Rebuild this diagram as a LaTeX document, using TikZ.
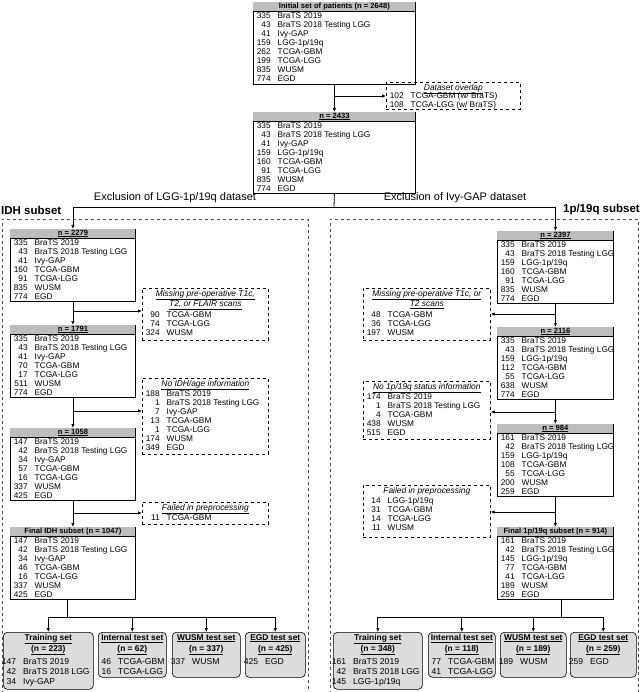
\documentclass[tikz,border=0pt]{standalone}
\usepackage{fontspec}
\setmainfont{Liberation Sans}
\usepackage{array}
\usetikzlibrary{arrows.meta}
\definecolor{hdrgray}{HTML}{BDBDBD}
\definecolor{tgray}{HTML}{DCDCDC}
\tikzset{
  dbx/.style={draw, line width=0.8pt, fill=white, inner sep=0pt},
  ebx/.style={draw, dashed, line width=0.7pt, inner sep=0pt},
  tbx/.style={draw, line width=0.6pt, fill=tgray, rounded corners=4pt, inner sep=0pt},
  txt/.style={font=\fontsize{8.3}{9.1}\selectfont, inner sep=1pt},
  ttxt/.style={font=\fontsize{8.6}{10.2}\selectfont, inner sep=1pt},
  arr/.style={line width=0.8pt, -{Latex[length=4pt,width=3.5pt]}},
  ln/.style={line width=0.8pt},
  region/.style={dashed, line width=0.6pt, gray!60!black},
}
\newcommand\rws[1]{\begin{tabular}{@{\hspace{2pt}}>{\raggedleft\arraybackslash}p{15pt}@{\hspace{7pt}}l@{}}#1\end{tabular}}
\newcommand\trws[1]{\begin{tabular}{@{}>{\raggedleft\arraybackslash}p{15pt}@{\hspace{7pt}}l@{}}#1\end{tabular}}
% name, x, y, w, h, header, rows
\newcommand\dbox[7]{%
  \node[dbx, minimum width=#4pt, minimum height=#5pt, anchor=north west] (#1) at (#2,#3) {};
  \fill[hdrgray] ([xshift=0.4pt,yshift=-0.4pt]#1.north west) rectangle ([xshift=-0.4pt,yshift=-9pt]#1.north east);
  \draw[line width=0.5pt] ([yshift=-9pt]#1.north west) -- ([yshift=-9pt]#1.north east);
  \node[anchor=north, inner sep=0.6pt, font=\fontsize{7.6}{9}\selectfont\bfseries] at (#1.north) {\underline{#6}};
  \node[txt, anchor=north west, inner sep=0.5pt] at ([yshift=-9pt]#1.north west) {\rws{#7}};}
% name, x, y, w, h, header, header height, rows
\newcommand\ebox[8]{%
  \node[ebx, minimum width=#4pt, minimum height=#5pt, anchor=north west] (#1) at (#2,#3) {};
  \node[anchor=north, align=center, inner sep=1pt, font=\fontsize{8.4}{10}\selectfont\itshape] at ([yshift=-1pt]#1.north) {#6};
  \node[txt, anchor=north west, inner sep=0.5pt] at ([yshift=-#7pt]#1.north west) {\rws{#8}};}
% name, x, y, w, h, header, rows
\newcommand\tbox[7]{%
  \node[tbx, minimum width=#4pt, minimum height=#5pt, anchor=north west] (#1) at (#2,#3) {};
  \node[ttxt, anchor=north, align=center, font=\fontsize{8.4}{11}\selectfont\bfseries] at ([yshift=-1pt]#1.north) {#6};
  \node[ttxt, anchor=north west, inner sep=0pt] at ([yshift=-25pt,xshift=-2pt]#1.north west) {\trws{#7}};}
\begin{document}
\begin{tikzpicture}[x=1pt,y=-1pt]
\useasboundingbox (0,0) rectangle (640,692);
% regions
\draw[region] (2,700) -- (2,219) -- (308,219) -- (308,700);
\draw[region] (330,700) -- (330,219) -- (638,219) -- (638,700);
% top
\dbox{top}{253}{2}{162}{82}{Initial set of patients (n = 2648)}{335 & BraTS 2019\\ 43 & BraTS 2018 Testing LGG\\ 41 & Ivy-GAP\\ 159 & LGG-1p/19q\\ 262 & TCGA-GBM\\ 199 & TCGA-LGG\\ 835 & WUSM\\ 774 & EGD}
\ebox{ov}{386}{82}{134}{27}{\underline{Dataset overlap}}{9}{102 & TCGA-GBM (w/ BraTS)\\ 108 & TCGA-LGG (w/ BraTS)}
\dbox{sec}{253}{112}{162}{81}{n = 2433}{335 & BraTS 2019\\ 43 & BraTS 2018 Testing LGG\\ 41 & Ivy-GAP\\ 159 & LGG-1p/19q\\ 160 & TCGA-GBM\\ 91 & TCGA-LGG\\ 835 & WUSM\\ 774 & EGD}
\coordinate (j0) at (334,96);
\draw[arr] (top.south) -- (sec.north);
\draw[arr] (j0) -- (ov.west |- j0);
% left column
\dbox{L1}{10}{229}{125}{72}{n = 2279}{335 & BraTS 2019\\ 43 & BraTS 2018 Testing LGG\\ 41 & Ivy-GAP\\ 160 & TCGA-GBM\\ 91 & TCGA-LGG\\ 835 & WUSM\\ 774 & EGD}
\dbox{L2}{10}{325}{125}{72}{n = 1791}{335 & BraTS 2019\\ 43 & BraTS 2018 Testing LGG\\ 41 & Ivy-GAP\\ 70 & TCGA-GBM\\ 17 & TCGA-LGG\\ 511 & WUSM\\ 774 & EGD}
\dbox{L3}{10}{428}{125}{72}{n = 1058}{147 & BraTS 2019\\ 42 & BraTS 2018 Testing LGG\\ 34 & Ivy-GAP\\ 57 & TCGA-GBM\\ 16 & TCGA-LGG\\ 337 & WUSM\\ 425 & EGD}
\dbox{L4}{10}{527}{125}{72}{Final IDH subset (n = 1047)}{147 & BraTS 2019\\ 42 & BraTS 2018 Testing LGG\\ 34 & Ivy-GAP\\ 46 & TCGA-GBM\\ 16 & TCGA-LGG\\ 337 & WUSM\\ 425 & EGD}
\ebox{LM}{142}{288}{126}{52}{\underline{Missing pre-operative T1c,}\\\underline{T2, or FLAIR scans}}{22}{90 & TCGA-GBM\\ 74 & TCGA-LGG\\ 324 & WUSM}
\ebox{LN}{142}{378}{126}{76}{\underline{No IDH/age information}}{11}{188 & BraTS 2019\\ 1 & BraTS 2018 Testing LGG\\ 7 & Ivy-GAP\\ 13 & TCGA-GBM\\ 1 & TCGA-LGG\\ 174 & WUSM\\ 349 & EGD}
\ebox{LF}{142}{502}{126}{22}{\underline{Failed in preprocessing}}{11}{11 & TCGA-GBM}
\draw[arr] (L1.south) -- (L2.north);
\draw[arr] (L2.south) -- (L3.north);
\draw[arr] (L3.south) -- (L4.north);
\coordinate (la) at (73,311);
\coordinate (lb) at (73,411);
\coordinate (lc) at (73,513);
\draw[arr] (la) -- (LM.west |- la);
\draw[arr] (lb) -- (LN.west |- lb);
\draw[arr] (lc) -- (LF.west |- lc);
% right column
\dbox{R1}{497}{231}{116}{72}{n = 2397}{335 & BraTS 2019\\ 43 & BraTS 2018 Testing LGG\\ 159 & LGG-1p/19q\\ 160 & TCGA-GBM\\ 91 & TCGA-LGG\\ 835 & WUSM\\ 774 & EGD}
\dbox{R2}{497}{327}{116}{72}{n = 2116}{335 & BraTS 2019\\ 43 & BraTS 2018 Testing LGG\\ 159 & LGG-1p/19q\\ 112 & TCGA-GBM\\ 55 & TCGA-LGG\\ 638 & WUSM\\ 774 & EGD}
\dbox{R3}{497}{424}{116}{72}{n = 984}{161 & BraTS 2019\\ 42 & BraTS 2018 Testing LGG\\ 159 & LGG-1p/19q\\ 108 & TCGA-GBM\\ 55 & TCGA-LGG\\ 200 & WUSM\\ 259 & EGD}
\dbox{R4}{497}{527}{116}{72}{Final 1p/19q subset (n = 914)}{161 & BraTS 2019\\ 42 & BraTS 2018 Testing LGG\\ 145 & LGG-1p/19q\\ 77 & TCGA-GBM\\ 41 & TCGA-LGG\\ 189 & WUSM\\ 259 & EGD}
\ebox{RM}{363}{288}{127}{52}{\underline{Missing pre-operative T1c, or}\\\underline{T2 scans}}{22}{48 & TCGA-GBM\\ 36 & TCGA-LGG\\ 197 & WUSM}
\ebox{RN}{363}{381}{127}{58}{\underline{No 1p/19q status information}}{11}{174 & BraTS 2019\\ 1 & BraTS 2018 Testing LGG\\ 4 & TCGA-GBM\\ 438 & WUSM\\ 515 & EGD}
\ebox{RF}{363}{485}{127}{52}{Failed in preprocessing}{11}{14 & LGG-1p/19q\\ 31 & TCGA-GBM\\ 14 & TCGA-LGG\\ 11 & WUSM}
\draw[arr] (R1.south) -- (R2.north);
\draw[arr] (R2.south) -- (R3.north);
\draw[arr] (R3.south) -- (R4.north);
\coordinate (ra) at (555,314);
\coordinate (rb) at (555,412);
\coordinate (rc) at (555,512);
\draw[arr] (ra) -- (RM.east |- ra);
\draw[arr] (rb) -- (RN.east |- rb);
\draw[arr] (rc) -- (RF.east |- rc);
% split
\coordinate (sp) at (334,207);
\draw[ln] (sec.south) -- (sp);
\draw[arr] (sp) -| (L1.north);
\draw[arr] (sp) -| (R1.north);
\node[font=\fontsize{11}{13}\selectfont, anchor=south] at (175,206) {Exclusion of LGG-1p/19q dataset};
\node[font=\fontsize{11}{13}\selectfont, anchor=south] at (455,206) {Exclusion of Ivy-GAP dataset};
\node[font=\fontsize{11.5}{13}\selectfont\bfseries, anchor=west, inner sep=0pt] at (1,210) {IDH subset};
\node[font=\fontsize{11.5}{13}\selectfont\bfseries, anchor=east, inner sep=0pt] at (640,210) {1p/19q subset};
% left test sets
\tbox{T1}{3}{632}{90}{57}{\underline{Training set}\\\underline{(n = 223)}}{147 & BraTS 2019\\ 42 & BraTS 2018 LGG\\ 34 & Ivy-GAP}
\tbox{T2}{98}{632}{68}{45}{\underline{Internal test set}\\\underline{(n = 62)}}{46 & TCGA-GBM\\ 16 & TCGA-LGG}
\tbox{T3}{172}{632}{68}{45}{\underline{WUSM test set}\\\underline{(n = 337)}}{337 & WUSM}
\tbox{T4}{245}{632}{60}{45}{\underline{EGD test set}\\\underline{(n = 425)}}{425 & EGD}
\coordinate (lh) at (67,617);
\draw[ln] (L4.south -| lh) -- (lh);
\draw[ln] (T1.north |- lh) -- (T4.north |- lh);
\foreach \t in {T1,T2,T3,T4} \draw[arr] (\t.north |- lh) -- (\t.north);
% right test sets
\tbox{U1}{333}{632}{89}{57}{\underline{Training set}\\\underline{(n = 348)}}{161 & BraTS 2019\\ 42 & BraTS 2018 LGG\\ 145 & LGG-1p/19q}
\tbox{U2}{428}{632}{67}{45}{\underline{Internal test set}\\\underline{(n = 118)}}{77 & TCGA-GBM\\ 41 & TCGA-LGG}
\tbox{U3}{500}{632}{66}{45}{\underline{WUSM test set}\\\underline{(n = 189)}}{189 & WUSM}
\tbox{U4}{570}{632}{66}{45}{\underline{EGD test set}\\\underline{(n = 259)}}{259 & EGD}
\coordinate (rh) at (561,617);
\draw[ln] (R4.south -| rh) -- (rh);
\draw[ln] (U1.north |- rh) -- (U4.north |- rh);
\foreach \t in {U1,U2,U3,U4} \draw[arr] (\t.north |- rh) -- (\t.north);
\end{tikzpicture}
\end{document}
